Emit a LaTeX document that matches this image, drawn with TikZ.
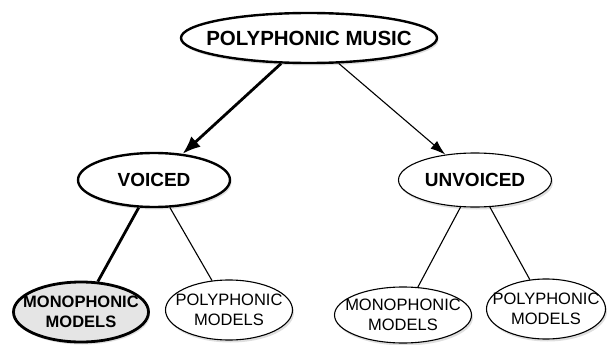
\documentclass[tikz,border=0pt]{standalone}
\usepackage{fontspec}
\setmainfont{Liberation Sans}
\usetikzlibrary{shapes.geometric,arrows.meta,shadows}

\begin{document}
\begin{tikzpicture}[x=1pt,y=-1pt,
	oval/.style={ellipse, draw, fill=white, inner xsep=-40pt, inner ysep=0pt, line width=1.1pt, align=center,
		drop shadow={shadow xshift=1.5pt, shadow yshift=-2.5pt, opacity=0.25}},
	boldoval/.style={oval, line width=2.4pt},
	thickarrow/.style={line width=2.8pt, -{Latex[length=18pt,width=14pt]}},
	thinarrow/.style={line width=1.1pt, -{Latex[length=15pt,width=10pt]}}]
	\useasboundingbox (0,0) rectangle (608,345);

	\node[boldoval, minimum width=256, minimum height=50, font=\fontsize{20.5}{24}\selectfont\bfseries] (music) at (309,38) {POLYPHONIC MUSIC};
	\node[boldoval, minimum width=152, minimum height=54, font=\fontsize{19}{22}\selectfont\bfseries] (voiced) at (154,180) {VOICED};
	\node[oval, minimum width=153, minimum height=54, font=\fontsize{19}{22}\selectfont\bfseries] (unvoiced) at (475,180) {UNVOICED};

	\node[boldoval, line width=2.8pt, fill=gray!20, minimum width=135, minimum height=60, font=\fontsize{16.5}{20}\selectfont\bfseries] (vmono) at (81,312) {MONOPHONIC\\MODELS};
	\node[oval, minimum width=127, minimum height=60, font=\fontsize{16.5}{20}\selectfont] (vpoly) at (229,310) {POLYPHONIC\\MODELS};
	\node[oval, minimum width=137, minimum height=56, font=\fontsize{16.5}{20}\selectfont] (umono) at (403,315) {MONOPHONIC\\MODELS};
	\node[oval, minimum width=119, minimum height=60, font=\fontsize{16.5}{20}\selectfont] (upoly) at (546,309) {POLYPHONIC\\MODELS};

	\draw[thickarrow] (music) -- (voiced);
	\draw[thinarrow] (music) -- (unvoiced);
	\draw[line width=2.8pt] (voiced) -- (vmono);
	\draw[line width=1.1pt] (voiced) -- (vpoly);
	\draw[line width=1.1pt] (unvoiced) -- (umono);
	\draw[line width=1.1pt] (unvoiced) -- (upoly);
\end{tikzpicture}
\end{document}
